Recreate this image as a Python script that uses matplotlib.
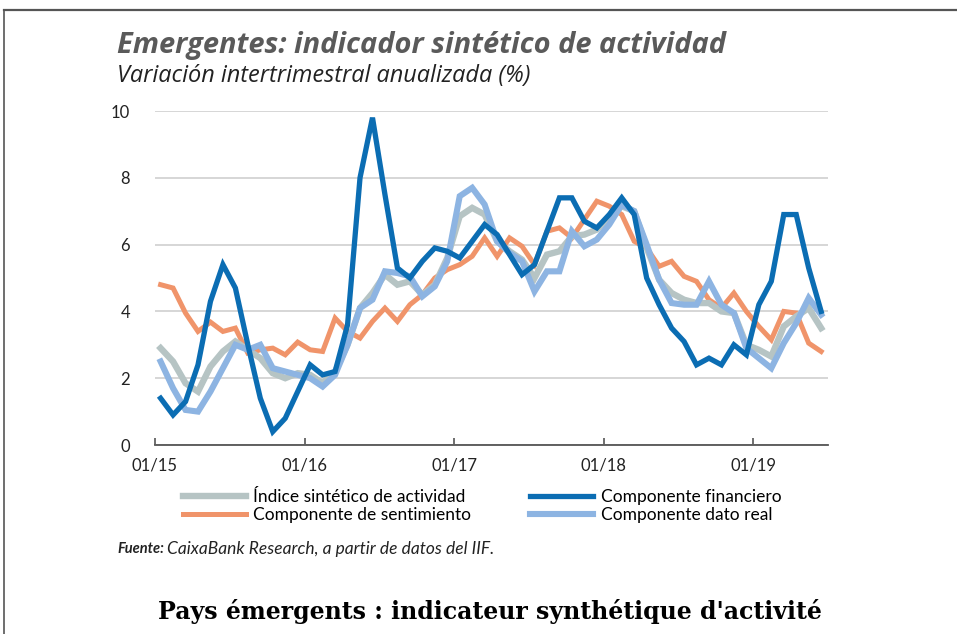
import numpy as np
import matplotlib
matplotlib.use("Agg")
import matplotlib.pyplot as plt
from matplotlib.lines import Line2D

# ---- data (monthly, 01/2015 .. 06/2019) ----
tick_labels = ["01/15", "01/16", "01/17", "01/18", "01/19"]
indice = [2.9, 2.5, 1.85, 1.6, 2.35, 2.8, 3.1, 2.85, 2.6, 2.15, 2.0, 2.15, 2.1, 1.85,
          2.2, 3.0, 4.1, 4.55, 5.1, 4.8, 4.9, 4.5, 4.8, 5.6, 6.85, 7.1, 6.9, 6.1,
          5.8, 5.55, 5.0, 5.7, 5.8, 6.25, 6.3, 6.45, 6.8, 7.15, 7.0, 5.9, 4.95, 4.55,
          4.35, 4.25, 4.25, 4.0, 3.95, 3.0, 2.85, 2.65, 3.55, 3.85, 4.1, 3.5]
financiero = [1.4, 0.9, 1.3, 2.4, 4.3, 5.4, 4.7, 3.0, 1.4, 0.4, 0.8, 1.6, 2.4, 2.1,
              2.2, 3.6, 8.0, 9.8, 7.5, 5.3, 5.0, 5.5, 5.9, 5.8, 5.6, 6.1, 6.6, 6.3,
              5.7, 5.1, 5.4, 6.4, 7.4, 7.4, 6.7, 6.5, 6.9, 7.4, 6.9, 5.0, 4.2, 3.5,
              3.1, 2.4, 2.6, 2.4, 3.0, 2.7, 4.2, 4.9, 6.9, 6.9, 5.3, 4.0]
sentimiento = [4.8, 4.7, 3.95, 3.4, 3.68, 3.4, 3.5, 2.75, 2.85, 2.9, 2.7, 3.08, 2.85, 2.8,
               3.8, 3.4, 3.2, 3.7, 4.1, 3.7, 4.2, 4.5, 5.0, 5.25, 5.4, 5.65, 6.2, 5.65,
               6.2, 5.95, 5.4, 6.4, 6.5, 6.2, 6.75, 7.3, 7.15, 6.9, 6.1, 5.9, 5.35, 5.5,
               5.05, 4.9, 4.35, 4.1, 4.55, 4.0, 3.55, 3.15, 4.0, 3.95, 3.05, 2.8]
dato_real = [2.5, 1.7, 1.05, 1.0, 1.6, 2.3, 3.0, 2.85, 3.0, 2.3, 2.2, 2.1, 2.0, 1.75,
             2.1, 3.0, 4.1, 4.35, 5.2, 5.15, 5.05, 4.45, 4.75, 5.5, 7.45, 7.7, 7.2, 6.1,
             5.75, 5.5, 4.6, 5.2, 5.2, 6.4, 5.95, 6.15, 6.6, 7.2, 7.0, 6.0, 4.95, 4.25,
             4.2, 4.2, 4.9, 4.2, 3.95, 2.9, 2.6, 2.3, 3.05, 3.65, 4.4, 3.9]

c_ind = "#B6C4C4"
c_fin = "#0B6DB3"
c_sen = "#F0946A"
c_real = "#8DB4E2"

plt.rcParams['font.family'] = ['Lato', 'DejaVu Sans']

fig = plt.figure(figsize=(9.57, 6.34), dpi=100)
W, H = 957, 634
ax = fig.add_axes([155 / W, 1 - 445 / H, (828 - 155) / W, (445 - 111) / H])

x = np.arange(len(indice)) + 0.45
ax.plot(x, indice, color=c_ind, lw=4.6, solid_joinstyle='miter', zorder=3)
ax.plot(x, sentimiento, color=c_sen, lw=3.6, solid_joinstyle='miter', zorder=2)
ax.plot(x, dato_real, color=c_real, lw=4.4, solid_joinstyle='miter', zorder=4)
ax.plot(x, financiero, color=c_fin, lw=3.8, solid_joinstyle='miter', zorder=5)

ax.set_xlim(0, 54)
ax.set_ylim(0, 10)
ax.set_yticks([0, 2, 4, 6, 8, 10])
ax.set_xticks([0, 12, 24, 36, 48])
ax.set_xticklabels(tick_labels)
ax.yaxis.grid(True, color="#CFCFCF", lw=1.2, zorder=0)
ax.set_axisbelow(True)
for s in ["top", "right", "left"]:
    ax.spines[s].set_visible(False)
ax.spines["bottom"].set_color("#555555")
ax.spines["bottom"].set_linewidth(1.3)
ax.tick_params(axis='y', length=0, pad=18, labelsize=12, labelcolor="#222222")
ax.tick_params(axis='x', direction='in', length=5, width=1.2, color="#555555",
               pad=9, labelsize=12, labelcolor="#222222")

fig.canvas.draw()
renderer = fig.canvas.get_renderer()


def fit_text(xpx, ypx, s, target_w, size0, **kw):
    t = fig.text(xpx / W, 1 - ypx / H, s, fontsize=size0, va='center', ha='left', **kw)
    w = t.get_window_extent(renderer).width
    t.set_fontsize(size0 * target_w / w)
    return t


fit_text(117, 45, "Emergentes: indicador sintético de actividad", 610, 18,
         family=['Open Sans', 'DejaVu Sans'], fontweight='bold', fontstyle='italic',
         color="#5A5A5A")
fit_text(117, 76, "Variación intertrimestral anualizada (%)", 416, 14,
         family=['Open Sans', 'DejaVu Sans'], fontstyle='italic', color="#222222")

# legend
handles = [Line2D([], [], color=c_ind, lw=4.6), Line2D([], [], color=c_sen, lw=3.6),
           Line2D([], [], color=c_fin, lw=3.8), Line2D([], [], color=c_real, lw=4.4)]
labels = ["Índice sintético de actividad", "Componente de sentimiento",
          "Componente financiero", "Componente dato real"]
leg = fig.legend(handles, labels, ncol=2, loc='center left',
                 bbox_to_anchor=(171 / W, 1 - 506 / H), frameon=False,
                 fontsize=12.5, handlelength=3.6, handletextpad=0.45,
                 columnspacing=3.4, labelspacing=0.12, borderpad=0.2)

# source line
f1 = fig.text(117 / W, 1 - 549 / H, "Fuente:", fontsize=10.5, fontweight='bold',
              fontstyle='italic', va='center', ha='left', color="#222222")
fig.canvas.draw()
x_end = f1.get_window_extent(renderer).x1
fit_text(x_end + 3, 549, "CaixaBank Research, a partir de datos del IIF.",
         493 - x_end - 3, 10.5, fontstyle='italic', color="#222222")

fig.text(490 / W, 1 - 612 / H, "Pays émergents : indicateur synthétique d'activité",
         fontsize=17, fontweight='bold', family='DejaVu Serif', va='center', ha='center',
         color="black")

# frame lines
fig.add_artist(Line2D([4 / W, 1], [1 - 9.5 / H, 1 - 9.5 / H], color="#555555", lw=1.6))
fig.add_artist(Line2D([4 / W, 4 / W], [0, 1 - 9.5 / H], color="#555555", lw=1.2))

fig.savefig("out.png", dpi=100)
